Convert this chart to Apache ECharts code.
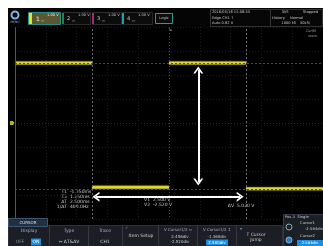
<!DOCTYPE html>
<html>
<head>
<meta charset="utf-8">
<script src="https://cdn.jsdelivr.net/npm/echarts@6/dist/echarts.min.js"></script>
<style>
  html, body { margin: 0; padding: 0; background: #fff; }
  #main { width: 323px; height: 246px; }
</style>
</head>
<body>
<div id="main"></div>
<script>
// 示波器光标测量截图 - 方波 + 光标
const edgeTimes = [0, 2.5, 5.0, 7.5, 10];       // div
const levels = [2.5, -2.68, 2.5, -2.74];         // V (1 V/div)
const timeCursors = [2.5, 7.5];
const voltCursors = [2.5, -2.75];
const vArrow = { x: 5.95, from: 2.21, to: -2.46 };
const hArrow = { y: -3.07, from: 2.63, to: 7.31 };
const timeLabels = ["T1", "T2", "\u0394T", "1/\u0394T"];
const timeValues = ["-1.250ms", "1.250ms", "2.500ms", "400.0Hz"];
const voltLabels = ["V1", "V2"];
const voltValues = ["2.500 V", "-2.520 V"];
const deltaV = "5.020 V";

// 断开的方波段（边沿不显示）
const trace = [];
for (let i = 0; i < levels.length; i++) {
  trace.push([edgeTimes[i], levels[i]]);
  trace.push([edgeTimes[i + 1], levels[i]]);
  trace.push([edgeTimes[i + 1], "-"]);
}

const F = "DejaVu Sans";
const txt = (x, y, s, style) => ({
  type: "text", x: x, y: y, silent: true,
  style: Object.assign({ text: s, fill: "#c8c8c8", font: "4.5px " + F, textVerticalAlign: "middle" }, style || {})
});
const box = (x, y, w, h, fill, stroke) => ({
  type: "rect", silent: true, shape: { x: x, y: y, width: w, height: h },
  style: { fill: fill, stroke: stroke || null, lineWidth: 1 }
});
const vline = (x, y1, y2, c) => ({ type: "line", silent: true, shape: { x1: x, y1: y1, x2: x, y2: y2 }, style: { stroke: c } });

const chevron = "path://M0,8 L5,0 L10,8 L8,8 L5,3.2 L2,8 Z";
const small = { font: "3.6px " + F };

const graphics = [
  // 白边
  box(0, 0, 323, 8, "#ffffff"), box(0, 0, 8, 246, "#ffffff"),
  // 顶栏
  box(8, 8, 315, 19, "#050505"),
  { type: "circle", silent: true, shape: { cx: 15, cy: 15, r: 3.5 }, style: { fill: "none", stroke: "#7fb4dc", lineWidth: 2 } },
  txt(15, 22.5, "MENU", { font: "3px " + F, fill: "#9ab", textAlign: "center" }),
  box(28.5, 12.5, 32, 12, "#5a5830", "#2c8c8c"),
  box(29, 13, 3, 11, "#e6df22"),
  txt(36, 19, "1", { font: "6px " + F, fill: "#eee" }),
  txt(41, 21, "\u2393", { font: "4px " + F, fill: "#ddd" }),
  txt(47, 15.5, "1.00 V", Object.assign({ fill: "#eee" }, small)),
  box(62.5, 12.5, 28, 12, "#0c0c0c", "#2a2a2a"),
  box(62, 13, 2, 11, "#2b7d52"),
  txt(67, 19, "2", { font: "5px " + F }),
  txt(72, 21, "\u2393", { font: "4px " + F }),
  txt(78, 15.5, "1.00 V", small),
  box(92.5, 12.5, 29, 12, "#0c0c0c", "#2a2a2a"),
  box(92, 13, 2, 11, "#9c2a7e"),
  txt(97, 19, "3", { font: "5px " + F }),
  txt(102, 21, "\u2393", { font: "4px " + F }),
  txt(108, 15.5, "1.00 V", small),
  box(122.5, 12.5, 30, 12, "#0c0c0c", "#2a2a2a"),
  box(122, 13, 2, 11, "#22a0a8"),
  txt(127, 19, "4", { font: "5px " + F }),
  txt(132, 21, "\u2393", { font: "4px " + F }),
  txt(138, 15.5, "1.00 V", small),
  box(155.5, 13.5, 17, 10, "#0c0c0c", "#2a9a9a"),
  txt(164, 18.5, "Logic", Object.assign({ textAlign: "center" }, small)),
  // 右上信息
  box(210.5, 9.5, 60, 17, "#070707", "#333"),
  box(270.5, 9.5, 52, 17, "#070707", "#333"),
  txt(212, 12.5, "2016/05/16 15:08:55", small),
  txt(212, 18, "Edge CH1 \u2191", small),
  txt(212, 23.5, "Auto 0.82 V", small),
  txt(282, 12.5, "5kS", small),
  txt(303, 12.5, "Stopped", small),
  txt(272, 18, "History", small),
  txt(290, 18, "Normal", small),
  txt(296, 23.5, "1000 kS", Object.assign({ textAlign: "right" }, small)),
  txt(300, 23.5, "50kS/", small),
  txt(306, 31, "Cur/M", { font: "3.4px " + F, fill: "#aaa" }),
  txt(308, 36, "ment", { font: "3.4px " + F, fill: "#aaa" }),
  // 触发位置 / 地电平标记
  txt(168, 29.5, "\u2198", { font: "5px " + F, fill: "#aaa" }),
  { type: "polygon", silent: true, shape: { points: [[10, 121], [13, 121], [14.5, 123], [13, 125], [10, 125]] }, style: { fill: "#bfae2c" } }
];

// 光标读数
timeLabels.forEach((l, i) => {
  graphics.push(txt(67, 192 + i * 5, l, { textAlign: "right" }));
  graphics.push(txt(70, 192 + i * 5, timeValues[i]));
});
voltLabels.forEach((l, i) => {
  graphics.push(txt(150, 200 + i * 5, l, { textAlign: "right" }));
  graphics.push(txt(153, 200 + i * 5, voltValues[i]));
});
graphics.push(txt(234, 206, "\u0394V", { textAlign: "right" }));
graphics.push(txt(237, 206, deltaV));

// 底部菜单
graphics.push(
  box(8.5, 225.5, 274, 21, "#1b1f25", "#2c3138"),
  box(8.5, 218.5, 39, 8, "#22303e", "#3b5670"),
  txt(28, 222.5, "CURSOR", { textAlign: "center", font: "4px " + F, fill: "#dde" }),
  vline(49.5, 226, 246, "#333a42"),
  vline(88.5, 226, 246, "#333a42"),
  vline(122.5, 226, 246, "#333a42"),
  vline(158.5, 226, 246, "#333a42"),
  vline(197.5, 226, 246, "#333a42"),
  vline(236.5, 226, 246, "#333a42"),
  txt(29, 231, "Display", { textAlign: "center", fill: "#aab" }),
  txt(20, 242, "OFF", { textAlign: "center", fill: "#889" }),
  box(31, 238.5, 10, 7, "#1c8ee0"),
  txt(36, 242, "ON", { textAlign: "center", fill: "#fff" }),
  txt(69, 231, "Type", { textAlign: "center", fill: "#aab" }),
  txt(69, 242, "\u21D4 \u0394T&\u0394V", { textAlign: "center", fill: "#ccc" }),
  txt(105, 231, "Trace", { textAlign: "center", fill: "#aab" }),
  txt(105, 242, "CH1", { textAlign: "center", fill: "#ccc" }),
  txt(125, 228, "\u2713", { font: "4px " + F, fill: "#5aa0e0" }),
  txt(141, 236, "Item Setup", { textAlign: "center", fill: "#ccc" }),
  txt(178, 229.5, "V Cursor1/2 \u21D4", { textAlign: "center", fill: "#aab", font: "4px " + F }),
  txt(180, 237, "2.456div", { textAlign: "center", font: "4px " + F }),
  txt(180, 241.5, "-2.520div", { textAlign: "center", font: "4px " + F }),
  txt(217, 229.5, "V Cursor1/2 \u2195", { textAlign: "center", fill: "#aab", font: "4px " + F }),
  txt(217, 237, "-1.368div", { textAlign: "center", font: "4px " + F }),
  box(206, 239.5, 22, 6, "#1c8ee0"),
  txt(217, 242.5, "2.500div", { textAlign: "center", font: "4px " + F, fill: "#fff" }),
  txt(240, 228.5, "\u25BE", { font: "4px " + F, fill: "#5aa0e0" }),
  txt(256, 235, "T Cursor", { textAlign: "center" }),
  txt(256, 240, "Jump", { textAlign: "center" }),
  box(283.5, 214.5, 40, 32, "#1b2026", "#343b44"),
  txt(285, 217.5, "Pos \u2299  Single", small),
  { type: "circle", silent: true, shape: { cx: 289, cy: 227, r: 3 }, style: { fill: "none", stroke: "#8aa", lineWidth: 1 } },
  txt(300, 223.5, "Cursor1", { font: "3.8px " + F }),
  txt(305, 229, "-2.584div", { font: "3.8px " + F }),
  { type: "circle", silent: true, shape: { cx: 289, cy: 240, r: 3 }, style: { fill: "#2b7fc0", stroke: "#8ac", lineWidth: 1 } },
  txt(300, 236, "Cursor2", { font: "3.8px " + F }),
  box(297, 240, 26, 6, "#1c8ee0"),
  txt(310, 243, "2.584div", { textAlign: "center", font: "3.8px " + F, fill: "#fff" })
);

const xSplit = Array.from({ length: 11 }, (_, i) => (i === 5 ? "#4a4a4a" : "#1a1a1a"));
const ySplit = Array.from({ length: 9 }, (_, i) => (i === 4 ? "#2c2c2c" : "#1a1a1a"));

const chart = echarts.init(document.getElementById("main"));
chart.setOption({
  backgroundColor: "#000",
  animation: false,
  grid: { left: 15, top: 27, width: 312, height: 192 },
  xAxis: {
    type: "value", min: 0, max: 10, interval: 1,
    axisLine: { show: false }, axisTick: { show: false }, axisLabel: { show: false },
    splitLine: { show: true, lineStyle: { color: xSplit, type: [1, 2], width: 1 } }
  },
  yAxis: {
    type: "value", min: -4, max: 4, interval: 1,
    axisLine: { show: false }, axisTick: { show: false }, axisLabel: { show: false },
    splitLine: { show: true, lineStyle: { color: ySplit, type: [1, 2], width: 1 } }
  },
  series: [{
    type: "line",
    data: trace,
    showSymbol: false,
    connectNulls: false,
    clip: true,
    z: 3,
    lineStyle: { color: "#dcd23a", width: 3, shadowBlur: 2, shadowColor: "#7a7020" },
    markLine: {
      silent: true,
      symbol: "none",
      label: { show: false },
      animation: false,
      lineStyle: { color: "#6e6e6e", type: [2, 2], width: 1 },
      data: [
        { xAxis: 0, lineStyle: { color: "#555", type: "solid" } },
        ...timeCursors.map((t) => ({ xAxis: t })),
        ...voltCursors.map((v) => ({ yAxis: v, lineStyle: { color: "#4a4a4a", type: [2, 2] } })),
        [
          { coord: [vArrow.x, vArrow.from], symbol: chevron, symbolSize: [10, 7],
            lineStyle: { color: "#fff", width: 2, type: "solid" } },
          { coord: [vArrow.x, vArrow.to], symbol: chevron, symbolSize: [10, 7] }
        ],
        [
          { coord: [hArrow.from, hArrow.y], symbol: chevron, symbolSize: [10, 7],
            lineStyle: { color: "#fff", width: 2, type: "solid" } },
          { coord: [hArrow.to, hArrow.y], symbol: chevron, symbolSize: [10, 7] }
        ]
      ]
    }
  }],
  graphic: { elements: graphics }
});
</script>
</body>
</html>
